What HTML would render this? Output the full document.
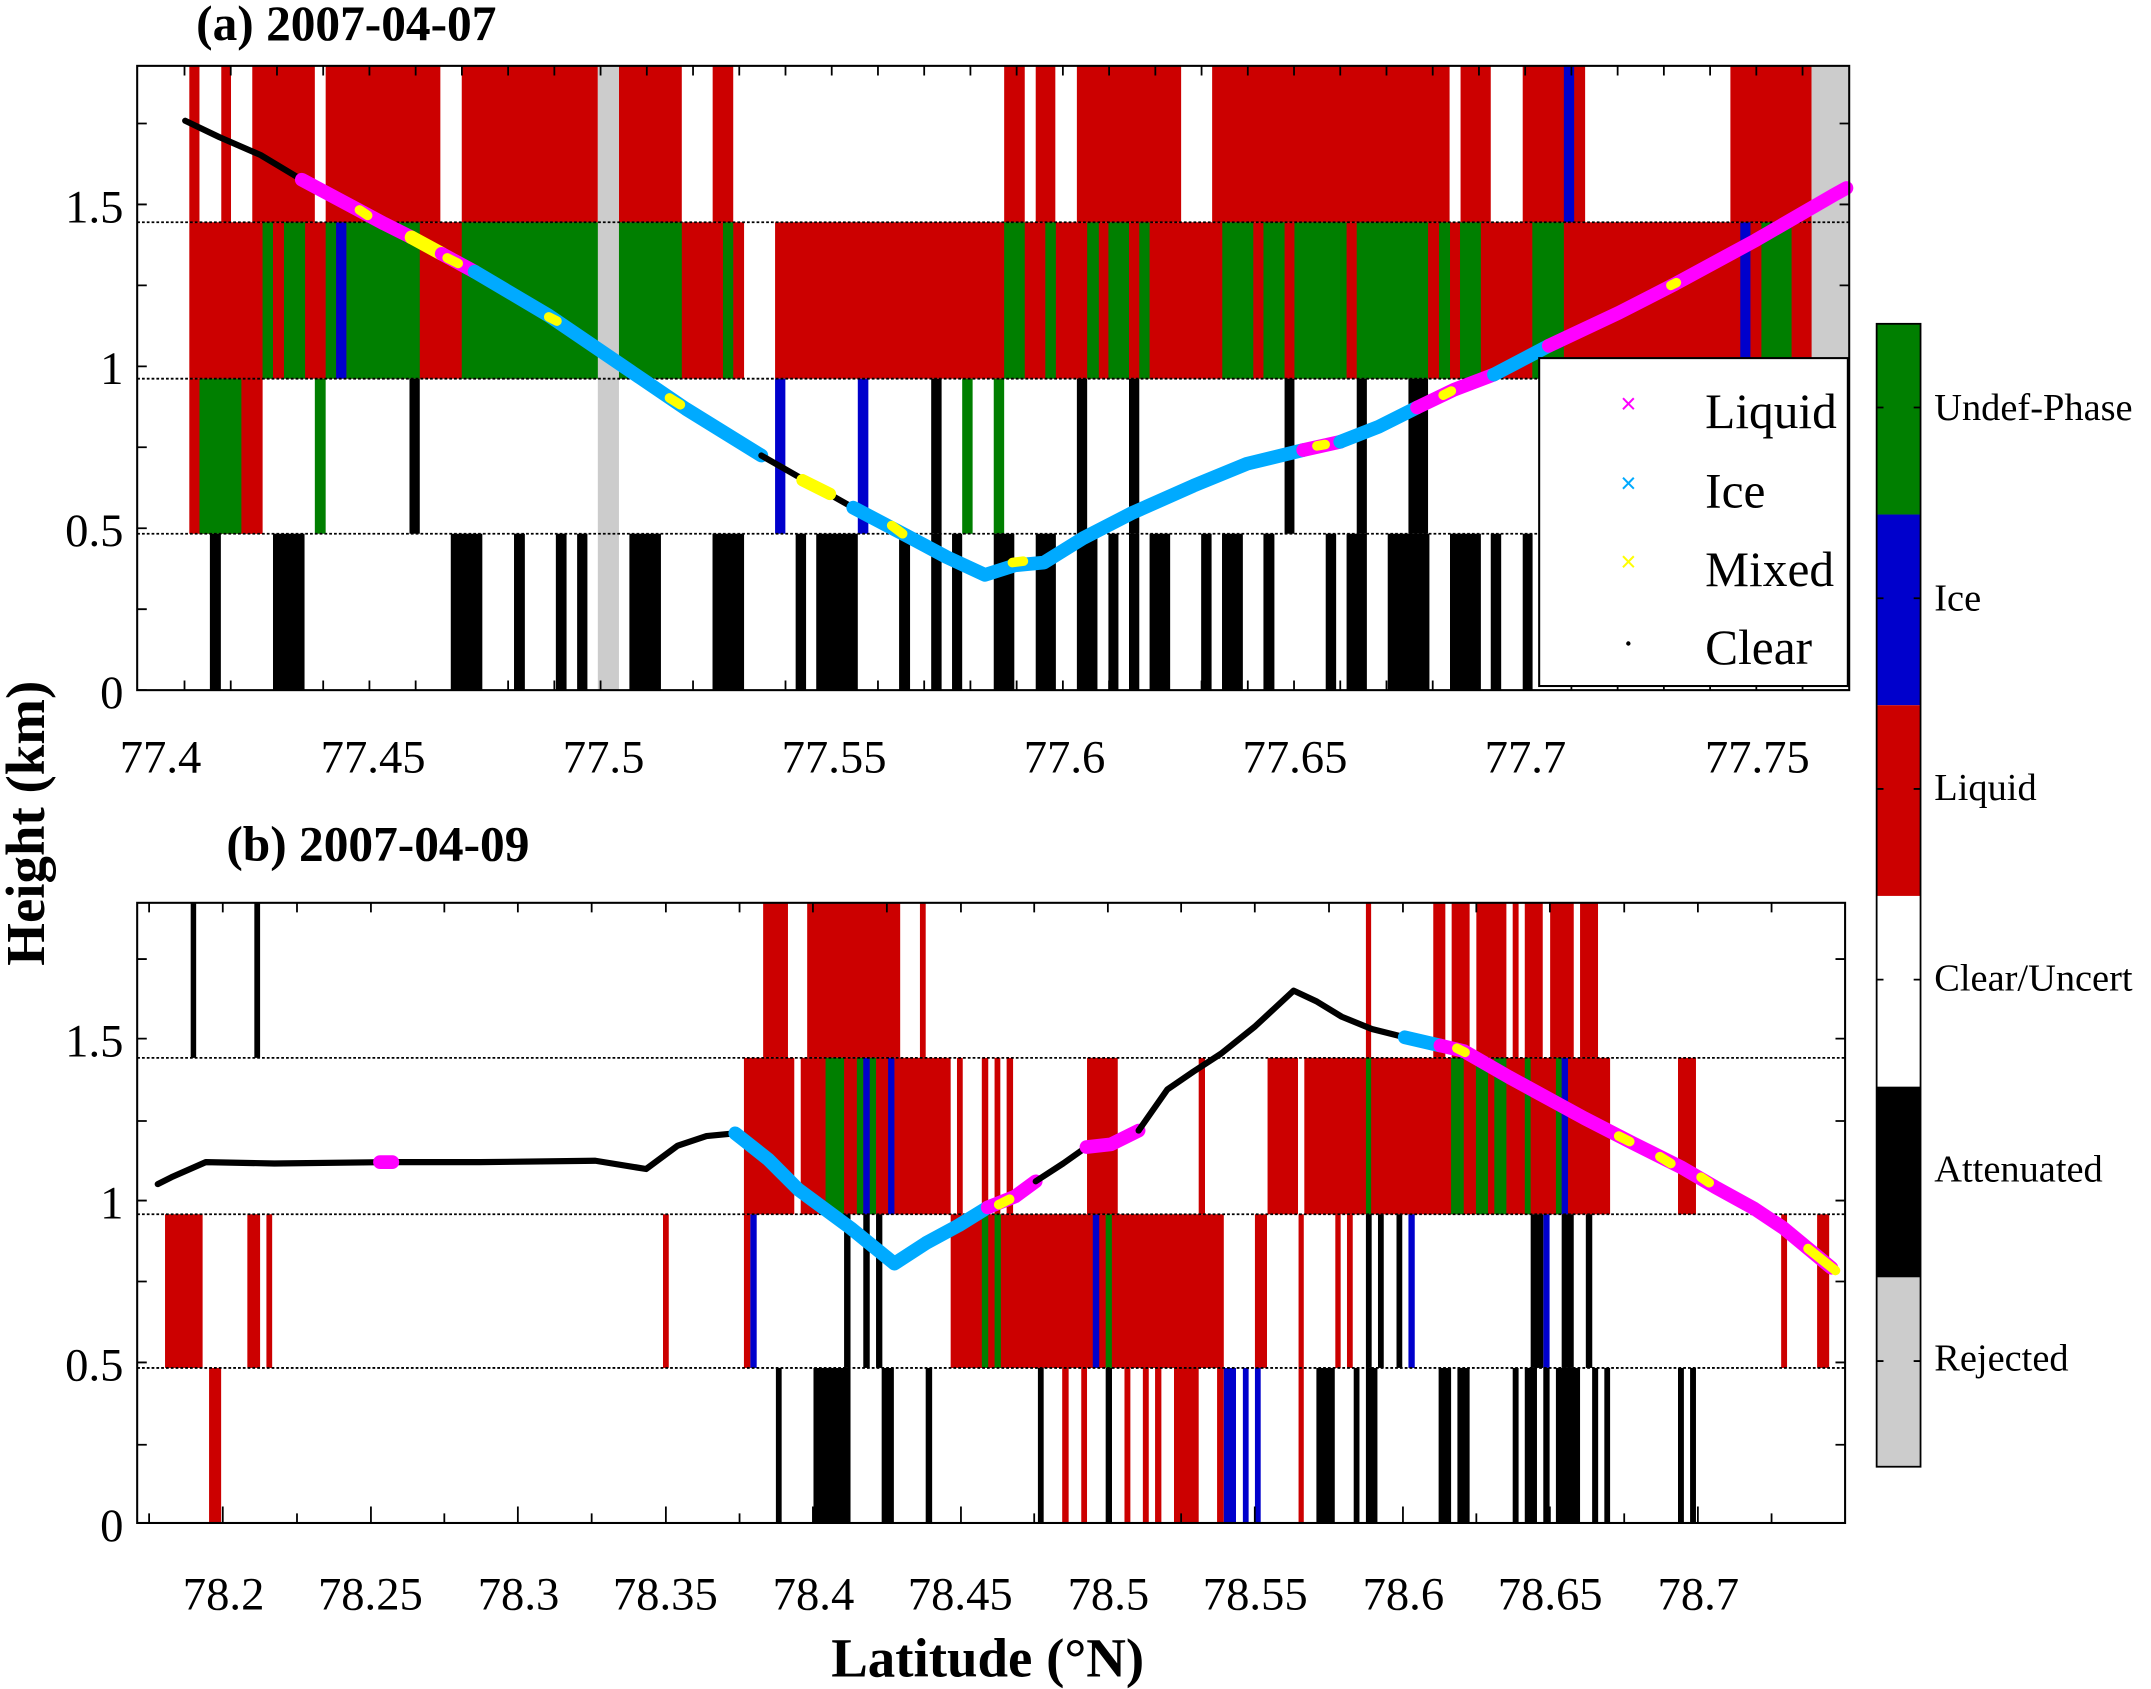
<!DOCTYPE html>
<html><head><meta charset="utf-8"><style>html,body{margin:0;padding:0;background:#fff}svg{display:block}</style></head>
<body>
<svg width="2151" height="1689" viewBox="0 0 1568 1231" preserveAspectRatio="none" xmlns="http://www.w3.org/2000/svg" font-family="Liberation Serif, serif">
<rect width="1568" height="1231" fill="#fff"/>
<g fill="#cc0000">
<rect x="138" y="48" width="7.4" height="114"/><rect x="161.3" y="48" width="7.1" height="114"/><rect x="183.9" y="48" width="45.6" height="114"/><rect x="237.4" y="48" width="83.6" height="114"/><rect x="336.6" y="48" width="99.2" height="114"/><rect x="451.2" y="48" width="45.8" height="114"/><rect x="519.5" y="48" width="15" height="114"/>
<rect x="732" y="48" width="15" height="114"/><rect x="755" y="48" width="14.3" height="114"/><rect x="785" y="48" width="76" height="114"/><rect x="883.6" y="48" width="173.1" height="114"/><rect x="1064.7" y="48" width="22" height="114"/><rect x="1110" y="48" width="45.5" height="114"/><rect x="1261.4" y="48" width="59.2" height="114"/>
<rect x="138" y="162" width="404.4" height="114"/><rect x="565" y="162" width="756" height="114"/>
<rect x="138" y="276" width="53.4" height="113"/>
</g>
<g fill="#007f00">
<rect x="191.4" y="162" width="7.6" height="114"/><rect x="207" y="162" width="15.4" height="114"/><rect x="237.4" y="162" width="7.6" height="114"/><rect x="252.5" y="162" width="53.5" height="114"/><rect x="336.6" y="162" width="114.6" height="114"/><rect x="451.2" y="162" width="45.8" height="114"/><rect x="527" y="162" width="7.5" height="114"/>
<rect x="732" y="162" width="15" height="114"/><rect x="762" y="162" width="7.7" height="114"/><rect x="792.5" y="162" width="8.5" height="114"/><rect x="808" y="162" width="15" height="114"/><rect x="830.5" y="162" width="7.5" height="114"/><rect x="891" y="162" width="22.6" height="114"/><rect x="921" y="162" width="15.4" height="114"/><rect x="943.6" y="162" width="38" height="114"/><rect x="989" y="162" width="52" height="114"/><rect x="1049" y="162" width="8" height="114"/><rect x="1064.3" y="162" width="15.2" height="114"/><rect x="1117" y="162" width="23" height="114"/><rect x="1284" y="162" width="22" height="114"/>
<rect x="145.4" y="276" width="30.6" height="113"/><rect x="229.5" y="276" width="7.9" height="113"/><rect x="701.4" y="276" width="7.6" height="113"/><rect x="724.4" y="276" width="7.6" height="113"/>
</g>
<rect x="176" y="276" width="15.4" height="113" fill="#cc0000"/>
<g fill="#0000cc">
<rect x="245" y="162" width="7.5" height="114"/><rect x="1140" y="48" width="7.5" height="114"/><rect x="1268.6" y="162" width="7.4" height="114"/><rect x="565" y="276" width="7.5" height="113"/><rect x="625.3" y="276" width="7.7" height="113"/>
</g>
<g fill="#cccccc"><rect x="435.8" y="48" width="15.4" height="455"/><rect x="1320.6" y="48" width="27.4" height="228"/></g>
<g fill="#000">
<rect x="298.5" y="276" width="7.5" height="113"/><rect x="678.8" y="276" width="7.6" height="113"/><rect x="785" y="276" width="7.5" height="113"/><rect x="823" y="276" width="7.5" height="113"/><rect x="936.4" y="276" width="7.2" height="113"/><rect x="989" y="276" width="7.4" height="113"/><rect x="1026.7" y="276" width="14.3" height="113"/>
<rect x="153" y="389" width="8" height="114"/><rect x="199" y="389" width="23" height="114"/><rect x="328.6" y="389" width="23" height="114"/><rect x="374.7" y="389" width="7.9" height="114"/><rect x="405.2" y="389" width="7.8" height="114"/><rect x="420.7" y="389" width="7.5" height="114"/><rect x="458.8" y="389" width="23" height="114"/><rect x="519.4" y="389" width="23" height="114"/><rect x="580" y="389" width="7.6" height="114"/><rect x="595" y="389" width="30.3" height="114"/><rect x="655.4" y="389" width="8" height="114"/><rect x="678.8" y="389" width="7.6" height="114"/><rect x="694" y="389" width="7.4" height="114"/><rect x="724.4" y="389" width="15" height="114"/><rect x="755" y="389" width="14.7" height="114"/><rect x="785" y="389" width="15" height="114"/><rect x="808" y="389" width="7.3" height="114"/><rect x="823" y="389" width="7.5" height="114"/><rect x="838" y="389" width="15" height="114"/><rect x="875.6" y="389" width="7.6" height="114"/><rect x="890.8" y="389" width="15.2" height="114"/><rect x="921" y="389" width="8" height="114"/><rect x="966.4" y="389" width="7.6" height="114"/><rect x="981.6" y="389" width="14.8" height="114"/><rect x="1011.6" y="389" width="30.4" height="114"/><rect x="1057" y="389" width="22.5" height="114"/><rect x="1086.7" y="389" width="7.6" height="114"/><rect x="1110" y="389" width="7.2" height="114"/>
</g>
<g fill="#cc0000">
<rect x="556.3" y="658" width="18.1" height="113"/><rect x="588.4" y="658" width="67.8" height="113"/><rect x="670.6" y="658" width="4.2" height="113"/><rect x="995.7" y="658" width="3.8" height="113"/><rect x="1044.8" y="658" width="8.8" height="113"/><rect x="1058.2" y="658" width="13.1" height="113"/><rect x="1076.2" y="658" width="21.9" height="113"/><rect x="1102.7" y="658" width="4.3" height="113"/><rect x="1111.5" y="658" width="13.1" height="113"/><rect x="1130" y="658" width="17.2" height="113"/><rect x="1151.8" y="658" width="13.1" height="113"/>
<rect x="542.3" y="771" width="36.7" height="114"/><rect x="583.7" y="771" width="109.3" height="114"/><rect x="697.6" y="771" width="4.2" height="114"/><rect x="715.7" y="771" width="4.7" height="114"/><rect x="725" y="771" width="4.2" height="114"/><rect x="733.8" y="771" width="4.7" height="114"/><rect x="792.4" y="771" width="22.4" height="114"/><rect x="873.8" y="771" width="4.6" height="114"/><rect x="924" y="771" width="22.2" height="114"/><rect x="950.8" y="771" width="222.9" height="114"/><rect x="1223.2" y="771" width="13.1" height="114"/>
<rect x="120.3" y="885" width="27.4" height="112"/><rect x="180.3" y="885" width="9.3" height="112"/><rect x="194.2" y="885" width="4.2" height="112"/><rect x="483.3" y="885" width="4.2" height="112"/><rect x="542.3" y="885" width="4.7" height="112"/><rect x="693" y="885" width="199.1" height="112"/><rect x="914.8" y="885" width="8.8" height="112"/><rect x="946.6" y="885" width="3.8" height="112"/><rect x="973.4" y="885" width="3.9" height="112"/><rect x="981.9" y="885" width="4.2" height="112"/><rect x="1298.4" y="885" width="4.3" height="112"/><rect x="1324.6" y="885" width="8.8" height="112"/>
<rect x="152.4" y="997" width="8.8" height="113"/><rect x="774.3" y="997" width="4.7" height="113"/><rect x="788.2" y="997" width="4.2" height="113"/><rect x="819.7" y="997" width="4.3" height="113"/><rect x="833.1" y="997" width="4.3" height="113"/><rect x="842" y="997" width="4.6" height="113"/><rect x="855.8" y="997" width="18" height="113"/><rect x="887.2" y="997" width="4.9" height="113"/><rect x="946.6" y="997" width="3.8" height="113"/>
</g>
<g fill="#007f00">
<rect x="601.8" y="771" width="13.5" height="114"/><rect x="624.6" y="771" width="4.7" height="114"/><rect x="634" y="771" width="4.6" height="114"/><rect x="995.7" y="771" width="3.8" height="114"/><rect x="1057.8" y="771" width="9.2" height="114"/><rect x="1075.9" y="771" width="8.8" height="114"/><rect x="1089.3" y="771" width="8.8" height="114"/><rect x="1111.5" y="771" width="4.3" height="114"/><rect x="1134.2" y="771" width="4.2" height="114"/>
<rect x="715.7" y="885" width="4.7" height="112"/><rect x="725" y="885" width="4.6" height="112"/><rect x="806" y="885" width="4.5" height="112"/>
</g>
<g fill="#0000cc">
<rect x="629.3" y="771" width="4.7" height="114"/><rect x="647.4" y="771" width="4.6" height="114"/><rect x="1138.4" y="771" width="4.6" height="114"/>
<rect x="547" y="885" width="4.6" height="112"/><rect x="796.6" y="885" width="4.7" height="112"/><rect x="1026.7" y="885" width="4.6" height="112"/><rect x="1125" y="885" width="4.6" height="112"/>
<rect x="892.1" y="997" width="8.9" height="113"/><rect x="906" y="997" width="4.2" height="113"/><rect x="914.8" y="997" width="4.2" height="113"/>
</g>
<g fill="#000">
<rect x="139" y="658" width="4" height="113"/><rect x="185.4" y="658" width="4.2" height="113"/>
<rect x="615.3" y="885" width="4.7" height="112"/><rect x="629.3" y="885" width="4.7" height="112"/><rect x="638.6" y="885" width="4.6" height="112"/><rect x="995.7" y="885" width="4.2" height="112"/><rect x="1004.5" y="885" width="4.2" height="112"/><rect x="1018" y="885" width="4.2" height="112"/><rect x="1115.8" y="885" width="9.2" height="112"/><rect x="1138.4" y="885" width="8.8" height="112"/><rect x="1156" y="885" width="4.7" height="112"/>
<rect x="565.6" y="997" width="4.2" height="113"/><rect x="593" y="997" width="27" height="113"/><rect x="642.7" y="997" width="8.9" height="113"/><rect x="674.8" y="997" width="4.7" height="113"/><rect x="756.6" y="997" width="4.2" height="113"/><rect x="806" y="997" width="4.6" height="113"/><rect x="959.6" y="997" width="13.4" height="113"/><rect x="986.8" y="997" width="4.2" height="113"/><rect x="995.7" y="997" width="8.4" height="113"/><rect x="1048.7" y="997" width="9.1" height="113"/><rect x="1062.4" y="997" width="8.9" height="113"/><rect x="1102.7" y="997" width="4.3" height="113"/><rect x="1111.5" y="997" width="8.9" height="113"/><rect x="1125" y="997" width="4.6" height="113"/><rect x="1134.2" y="997" width="17.6" height="113"/><rect x="1160.6" y="997" width="4.4" height="113"/><rect x="1169.5" y="997" width="4.2" height="113"/><rect x="1223.2" y="997" width="4.3" height="113"/><rect x="1232" y="997" width="4.3" height="113"/>
</g>
<rect x="819.8" y="997" width="3.8" height="113" fill="#cc0000"/>
<g stroke="#000" stroke-width="1.3" stroke-dasharray="2,1.5">
<line x1="100" y1="162" x2="1348" y2="162"/><line x1="100" y1="276" x2="1348" y2="276"/><line x1="100" y1="389" x2="1348" y2="389"/>
<line x1="100" y1="771" x2="1345" y2="771"/><line x1="100" y1="885" x2="1345" y2="885"/><line x1="100" y1="997" x2="1345" y2="997"/>
</g>
<g fill="none" stroke-linejoin="round" stroke-linecap="round">
<polyline stroke="#000" stroke-width="4.5" points="135,88 160,100 190,113 220,131"/>
<polyline stroke="#ff00ff" stroke-width="10" points="220,131 280,163 300,173"/>
<polyline stroke="#ffff00" stroke-width="10" points="300,173 322,185"/>
<polyline stroke="#ff00ff" stroke-width="10" points="322,185 346,198"/>
<polyline stroke="#00aaff" stroke-width="10" points="346,198 400,230 450,264 500,298 555,332"/>
<polyline stroke="#000" stroke-width="4.5" points="555,332 590,352 622,370"/>
<polyline stroke="#ffff00" stroke-width="9" points="585,350 605,360"/>
<polyline stroke="#00aaff" stroke-width="10" points="622,370 660,390 690,406 718,419 740,412 761,410 790,392 825,374 870,354 909,338 950,328"/>
<polyline stroke="#ff00ff" stroke-width="10" points="950,328 977,322"/>
<polyline stroke="#00aaff" stroke-width="10" points="977,322 1005,311 1033,297"/>
<polyline stroke="#ff00ff" stroke-width="10" points="1033,297 1060,284 1089,273"/>
<polyline stroke="#00aaff" stroke-width="10" points="1089,273 1129,252"/>
<polyline stroke="#ff00ff" stroke-width="10" points="1129,252 1180,228 1221,207 1280,175 1337,142 1346,137"/>
<g stroke="#ffff00" stroke-width="7"><line x1="262" y1="153" x2="268" y2="157"/><line x1="326" y1="188" x2="334" y2="192"/><line x1="400" y1="231" x2="406" y2="234"/><line x1="488" y1="290" x2="496" y2="295"/><line x1="650" y1="383" x2="658" y2="389"/><line x1="738" y1="410" x2="746" y2="409"/><line x1="960" y1="325" x2="966" y2="324"/><line x1="1218" y1="208" x2="1222" y2="206"/><line x1="1052" y1="288" x2="1058" y2="285"/></g>
<polyline stroke="#000" stroke-width="4.5" points="115,863 125,858 150,847 200,848 280,847 350,847 434,846 471,852 494,835 515,828 536,826"/>
<polyline stroke="#ff00ff" stroke-width="10" points="277,847 286,847"/>
<polyline stroke="#00aaff" stroke-width="10" points="536,826 560,845 582,867 620,895 652,921 675,906 699,893 720,880"/>
<polyline stroke="#ff00ff" stroke-width="10" points="720,880 740,872 755,861"/>
<polyline stroke="#ffff00" stroke-width="7" points="728,878 736,874"/>
<polyline stroke="#000" stroke-width="4.5" points="755,861 775,848 792,836"/>
<polyline stroke="#ff00ff" stroke-width="10" points="792,836 810,834 830,824"/>
<polyline stroke="#000" stroke-width="4.5" points="830,824 851,794 870,781 890,768 915,748 943,722 960,730 978,741 1000,750 1024,756"/>
<polyline stroke="#00aaff" stroke-width="10" points="1024,756 1050,762"/>
<polyline stroke="#ff00ff" stroke-width="10" points="1050,762 1067,766 1100,785 1155,815 1190,833 1226,851 1250,865 1279,881 1300,895 1335,924"/>
<g stroke="#ffff00" stroke-width="7"><line x1="1180" y1="828" x2="1188" y2="832"/><line x1="1210" y1="843" x2="1218" y2="848"/><line x1="1240" y1="858" x2="1246" y2="862"/><line x1="1318" y1="910" x2="1338" y2="926"/><line x1="1062" y1="764" x2="1068" y2="767"/></g>
</g>
<g fill="none" stroke="#000" stroke-width="1.5"><rect x="100" y="48" width="1248" height="455"/><rect x="100" y="658" width="1245" height="452"/></g>
<g stroke="#000" stroke-width="1.3">
<path d="M100 503h7M100 444h7M100 385h7M100 326h7M100 267h7M100 208h7M100 149h7M100 90h7M1348 503h-7M1348 444h-7M1348 385h-7M1348 326h-7M1348 267h-7M1348 208h-7M1348 149h-7M1348 90h-7"/>
<path d="M100 1110h7M100 1053h7M100 993h7M100 934h7M100 875h7M100 817h7M100 757h7M100 699h7M1345 1110h-7M1345 1053h-7M1345 993h-7M1345 934h-7M1345 875h-7M1345 817h-7M1345 757h-7M1345 699h-7"/>
<path d="M134.5 503v-7M168.2 503v-7M201.9 503v-7M235.6 503v-7M269.3 503v-7M303 503v-7M336.7 503v-7M370.4 503v-7M404.1 503v-7M437.8 503v-7M471.5 503v-7M505.2 503v-7M538.9 503v-7M572.6 503v-7M606.3 503v-7M640 503v-7M673.7 503v-7M707.4 503v-7M741.1 503v-7M774.8 503v-7M808.5 503v-7M842.2 503v-7M875.9 503v-7M909.6 503v-7M943.3 503v-7M977 503v-7M1010.7 503v-7M1044.4 503v-7M1078.1 503v-7M1111.8 503v-7M1145.5 503v-7M1179.2 503v-7M1212.9 503v-7M1246.6 503v-7M1280.3 503v-7M1314 503v-7"/>
<path d="M134.5 48v7M168.2 48v7M201.9 48v7M235.6 48v7M269.3 48v7M303 48v7M336.7 48v7M370.4 48v7M404.1 48v7M437.8 48v7M471.5 48v7M505.2 48v7M538.9 48v7M572.6 48v7M606.3 48v7M640 48v7M673.7 48v7M707.4 48v7M741.1 48v7M774.8 48v7M808.5 48v7M842.2 48v7M875.9 48v7M909.6 48v7M943.3 48v7M977 48v7M1010.7 48v7M1044.4 48v7M1078.1 48v7M1111.8 48v7M1145.5 48v7M1179.2 48v7M1212.9 48v7M1246.6 48v7M1280.3 48v7M1314 48v7"/>
<path d="M108.7 1110v-7M162.4 1110v-12M216.5 1110v-7M270.4 1110v-12M323.9 1110v-7M377.5 1110v-12M431.3 1110v-7M485.4 1110v-12M539.1 1110v-7M592.6 1110v-12M646.5 1110v-7M700.5 1110v-12M753.9 1110v-7M807.6 1110v-12M861 1110v-7M914.7 1110v-12M968.8 1110v-7M1022.7 1110v-12M1076.2 1110v-7M1129.8 1110v-12M1184 1110v-7M1237.7 1110v-12M1291.4 1110v-7"/>
<path d="M108.7 658v7M162.4 658v7M216.5 658v7M270.4 658v7M323.9 658v7M377.5 658v7M431.3 658v7M485.4 658v7M539.1 658v7M592.6 658v7M646.5 658v7M700.5 658v7M753.9 658v7M807.6 658v7M861 658v7M914.7 658v7M968.8 658v7M1022.7 658v7M1076.2 658v7M1129.8 658v7M1184 658v7M1237.7 658v7M1291.4 658v7"/>
</g>
<g font-size="34" text-anchor="end">
<text x="90" y="516">0</text><text x="90" y="398">0.5</text><text x="90" y="280">1</text><text x="90" y="162">1.5</text>
<text x="90" y="1123">0</text><text x="90" y="1006">0.5</text><text x="90" y="888">1</text><text x="90" y="770">1.5</text>
</g>
<g font-size="34" text-anchor="middle">
<text x="117" y="563">77.4</text><text x="272" y="563">77.45</text><text x="440" y="563">77.5</text><text x="608" y="563">77.55</text><text x="776" y="563">77.6</text><text x="944" y="563">77.65</text><text x="1112" y="563">77.7</text><text x="1281" y="563">77.75</text>
<text x="163" y="1173">78.2</text><text x="270" y="1173">78.25</text><text x="378" y="1173">78.3</text><text x="485" y="1173">78.35</text><text x="593" y="1173">78.4</text><text x="700" y="1173">78.45</text><text x="808" y="1173">78.5</text><text x="915" y="1173">78.55</text><text x="1023" y="1173">78.6</text><text x="1130" y="1173">78.65</text><text x="1238" y="1173">78.7</text>
</g>
<g font-weight="bold">
<text x="143" y="29" font-size="36">(a) 2007-04-07</text>
<text x="165" y="627" font-size="36">(b) 2007-04-09</text>
<text x="720" y="1222" font-size="40" text-anchor="middle">Latitude (°N)</text>
<text transform="translate(32,600) rotate(-90)" font-size="40" text-anchor="middle">Height (km)</text>
</g>
<rect x="1122" y="261" width="225" height="239" fill="#fff" stroke="#000" stroke-width="1.5"/>
<g font-size="36">
<text x="1243" y="312">Liquid</text><text x="1243" y="370">Ice</text><text x="1243" y="427">Mixed</text><text x="1243" y="484">Clear</text>
</g>
<g font-size="20" text-anchor="middle" font-family="Liberation Sans, sans-serif">
<text x="1187" y="301" fill="#ff00ff">×</text><text x="1187" y="359" fill="#00aaff">×</text><text x="1187" y="416" fill="#ffff00">×</text>
</g>
<circle cx="1187" cy="469" r="1.6" fill="#000"/>
<rect x="1368" y="236" width="32" height="139" fill="#007f00"/>
<rect x="1368" y="375" width="32" height="139" fill="#0000cc"/>
<rect x="1368" y="514" width="32" height="139" fill="#cc0000"/>
<rect x="1368" y="653" width="32" height="139" fill="#fff"/>
<rect x="1368" y="792" width="32" height="139" fill="#000"/>
<rect x="1368" y="931" width="32" height="138" fill="#cccccc"/>
<rect x="1368" y="236" width="32" height="833" fill="none" stroke="#000" stroke-width="1.3"/>
<g stroke="#000" stroke-width="1.3"><path d="M1368 297h5M1400 297h-5M1368 436h5M1400 436h-5M1368 575h5M1400 575h-5M1368 714h5M1400 714h-5M1368 853h5M1400 853h-5M1368 992h5M1400 992h-5"/></g>
<g font-size="28">
<text x="1410" y="306">Undef-Phase</text><text x="1410" y="445">Ice</text><text x="1410" y="583">Liquid</text><text x="1410" y="722">Clear/Uncert</text><text x="1410" y="861">Attenuated</text><text x="1410" y="999">Rejected</text>
</g>
</svg>
</body></html>
